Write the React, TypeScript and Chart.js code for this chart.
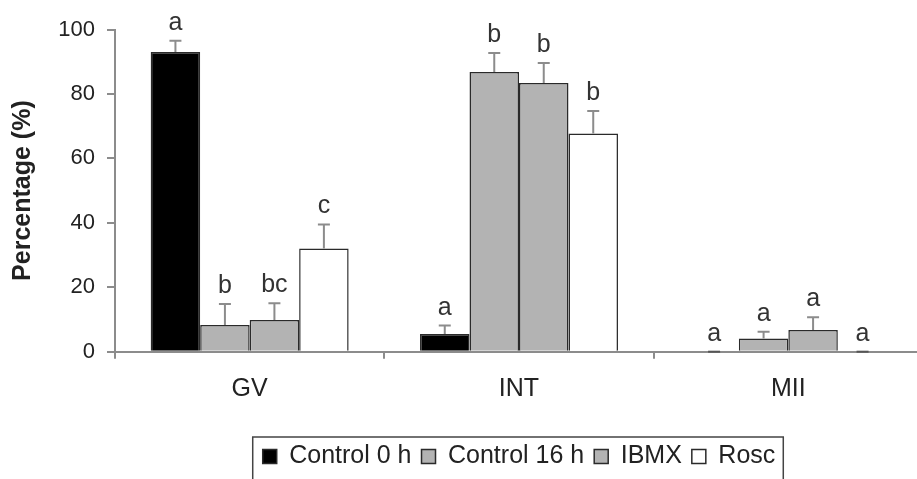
import { useEffect, useRef } from 'react';
import { Chart, registerables } from 'chart.js';

Chart.register(...registerables);

const categories = ['GV', 'INT', 'MII'];
const seriesNames = ['Control 0 h', 'Control 16 h', 'IBMX', 'Rosc'];

const control0 = [93, 5.5, 0];
const control0Err = [3.5, 2.6, 0];
const control0Letters = ['a', 'a', 'a'];

const control16 = [8.3, 86.8, 4.1];
const control16Err = [6.5, 5.9, 2.1];
const control16Letters = ['b', 'b', 'a'];

const ibmx = [9.8, 83.4, 6.7];
const ibmxErr = [5.2, 6.2, 4.0];
const ibmxLetters = ['bc', 'b', 'a'];

const rosc = [32, 67.7, 0];
const roscErr = [7.5, 7.0, 0];
const roscLetters = ['c', 'b', 'a'];

const yTicks = [0, 20, 40, 60, 80, 100];

const seriesValues = [control0, control16, ibmx, rosc];
const seriesErrors = [control0Err, control16Err, ibmxErr, roscErr];
const seriesLetters = [control0Letters, control16Letters, ibmxLetters, roscLetters];
const seriesColors = ['#000000', '#b3b3b3', '#b3b3b3', '#ffffff'];

const FONT = "'Liberation Sans', Arial, sans-serif";
const AXIS_GRAY = '#8c8c8c';

const errorBarPlugin = {
  id: 'errorBars',
  afterDatasetsDraw(chart: any) {
    const ctx = chart.ctx;
    const yScale = chart.scales.y;
    ctx.save();
    chart.data.datasets.forEach((ds: any, di: number) => {
      const meta = chart.getDatasetMeta(di);
      meta.data.forEach((bar: any, i: number) => {
        const v = seriesValues[di][i];
        const e = seriesErrors[di][i];
        const yTop = yScale.getPixelForValue(v + e);
        const yBar = yScale.getPixelForValue(v);
        ctx.strokeStyle = e === 0 ? '#555555' : AXIS_GRAY;
        ctx.lineWidth = 2;
        ctx.beginPath();
        ctx.moveTo(bar.x, yBar);
        ctx.lineTo(bar.x, yTop);
        ctx.moveTo(bar.x - 6, yTop);
        ctx.lineTo(bar.x + 6, yTop);
        ctx.stroke();
        ctx.fillStyle = '#333333';
        ctx.font = `25px ${FONT}`;
        ctx.textAlign = 'center';
        ctx.textBaseline = 'alphabetic';
        ctx.fillText(seriesLetters[di][i], bar.x, yTop - 11);
      });
    });
    ctx.restore();
  },
};

const legendBoxPlugin = {
  id: 'legendBox',
  afterDraw(chart: any) {
    const lg = chart.legend;
    if (!lg || !lg.legendHitBoxes || !lg.legendHitBoxes.length) return;
    const boxes = lg.legendHitBoxes;
    const first = boxes[0];
    const last = boxes[boxes.length - 1];
    const ctx = chart.ctx;
    ctx.save();
    ctx.strokeStyle = '#444444';
    ctx.lineWidth = 1.5;
    const left = first.left - 10;
    const right = last.left + last.width + 8;
    const top = lg.top + 3;
    ctx.beginPath();
    ctx.moveTo(left, chart.height + 5);
    ctx.lineTo(left, top);
    ctx.lineTo(right, top);
    ctx.lineTo(right, chart.height + 5);
    ctx.stroke();
    ctx.restore();
  },
};

export default function App() {
  const canvasRef = useRef<HTMLCanvasElement | null>(null);

  useEffect(() => {
    if (!canvasRef.current) return;
    const chart = new Chart(canvasRef.current, {
      type: 'bar',
      data: {
        labels: categories,
        datasets: seriesNames.map((name, di) => ({
          label: name,
          data: seriesValues[di],
          backgroundColor: seriesColors[di],
          borderColor: '#2a2a2a',
          borderWidth: 1.5,
          barPercentage: 1,
          categoryPercentage: 0.735,
        })),
      },
      options: {
        animation: false,
        responsive: false,
        layout: { padding: { top: 29.5, left: 0, right: 0, bottom: 0 } },
        plugins: {
          tooltip: { enabled: false },
          legend: {
            display: true,
            position: 'bottom',
            fullSize: false,
            labels: {
              boxWidth: 14,
              boxHeight: 14,
              padding: 10,
              color: '#222222',
              font: { family: FONT, size: 25 },
            },
          },
        },
        scales: {
          x: {
            type: 'category',
            grid: {
              display: true,
              offset: true,
              drawOnChartArea: false,
              drawTicks: true,
              tickLength: 7,
              color: AXIS_GRAY,
              lineWidth: 2,
            },
            border: { display: true, color: AXIS_GRAY, width: 2 },
            ticks: {
              color: '#222222',
              font: { family: FONT, size: 25 },
              padding: 15,
              maxRotation: 0,
            },
            afterFit(scale: any) {
              scale.height = 82.3;
            },
          },
          y: {
            type: 'linear',
            position: 'left',
            min: 0,
            max: 100,
            afterBuildTicks(scale: any) {
              scale.ticks = yTicks.map((v) => ({ value: v }));
            },
            grid: {
              display: true,
              drawOnChartArea: false,
              drawTicks: true,
              tickLength: 8,
              color: AXIS_GRAY,
              lineWidth: 2,
            },
            border: { display: true, color: AXIS_GRAY, width: 2 },
            ticks: {
              color: '#222222',
              font: { family: FONT, size: 22 },
              padding: 12,
            },
            title: {
              display: true,
              text: 'Percentage (%)',
              color: '#222222',
              font: { family: FONT, size: 25, weight: 'bold' },
              padding: { top: 8, bottom: 0 },
            },
            afterFit(scale: any) {
              scale.width = 115;
            },
          },
          yRight: {
            type: 'linear',
            position: 'right',
            display: true,
            grid: { display: false },
            border: { display: false },
            ticks: { display: false },
            afterFit(scale: any) {
              scale.width = 77;
            },
          },
        },
      },
      plugins: [errorBarPlugin, legendBoxPlugin],
    } as any);
    return () => chart.destroy();
  }, []);

  return (
    <div
      style={{
        position: 'fixed',
        left: 0,
        top: 0,
        width: 917,
        height: 479,
        overflow: 'hidden',
        background: '#ffffff',
      }}
    >
      <canvas ref={canvasRef} width={1000} height={479} style={{ display: 'block', width: 1000, height: 479 }} />
    </div>
  );
}
